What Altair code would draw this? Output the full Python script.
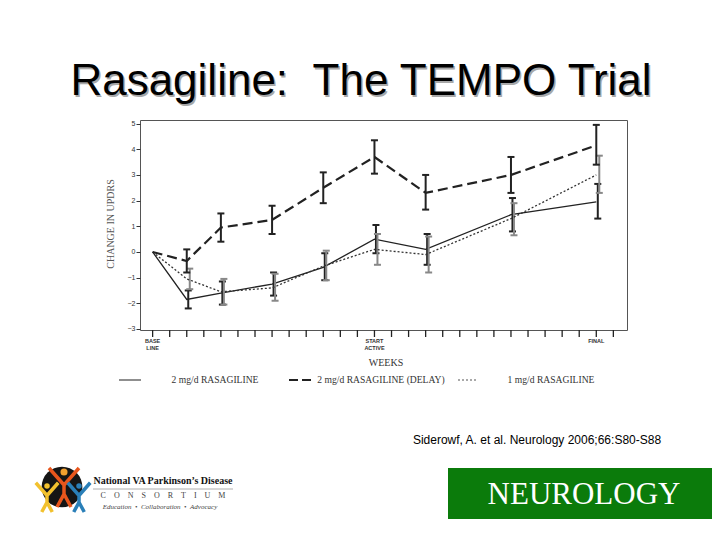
import altair as alt
import pandas as pd

# ---------------- data ----------------
weeks = [0, 4, 8, 14, 20, 26, 32, 42, 52]

r2_mean = [0, -1.85, -1.6, -1.25, -0.6, 0.5, 0.1, 1.45, 1.95]
r2_lo = [None, -2.2, -2.05, -1.7, -1.1, -0.05, -0.5, 0.8, 1.3]
r2_hi = [None, -1.5, -1.15, -0.8, -0.05, 1.05, 0.7, 2.1, 2.65]

delay_mean = [0, -0.35, 0.95, 1.25, 2.5, 3.7, 2.3, 3.0, 4.15]
delay_lo = [None, -0.8, 0.4, 0.7, 1.9, 3.05, 1.65, 2.3, 3.4]
delay_hi = [None, 0.1, 1.5, 1.8, 3.1, 4.35, 3.0, 3.7, 4.95]

r1_mean = [0, -1.05, -1.55, -1.4, -0.55, 0.1, -0.1, 1.3, 3.0]
r1_lo = [None, -1.45, -2.05, -1.9, -1.1, -0.5, -0.8, 0.65, 2.3]
r1_hi = [None, -0.65, -1.05, -0.85, 0.05, 0.7, 0.6, 1.9, 3.75]

series_names = ["2 mg/d RASAGILINE", "2 mg/d RASAGILINE (DELAY)", "1 mg/d RASAGILINE"]
x_tick_weeks = list(range(0, 56, 2))
y_ticks = list(range(-3, 6))
x_label_weeks = [0, 26, 52]
x_label_text = ["BASE\nLINE", "START\nACTIVE", "FINAL"]

NB = "\u00a0"
title_text = "Rasagiline:" + NB + NB + "The TEMPO Trial"
y_title = "CHANGE IN UPDRS"
x_title = "WEEKS"
citation = "Siderowf, A. et al. Neurology 2006;66:S80-S88"
consortium = (NB * 4).join(list("CONSORTIUM"))

# ---------------- layout ----------------
W, H = 487, 210
PAD_L, PAD_T = 132, 112
TOTAL_W, TOTAL_H = 704, 524
OX, OY = 8 + PAD_L, 8 + PAD_T  # page coords of plot origin

xs = alt.Scale(domain=[-1.48, 55.6], nice=False, zero=False)
ys = alt.Scale(domain=[-3.04, 5.14], nice=False, zero=False)

y_axis = alt.Axis(values=y_ticks, tickSize=4, tickColor="#333", labelFontSize=7,
                  labelColor="#333", labelPadding=1, labelFont="Liberation Sans",
                  domain=False, grid=False, title=None)


def one():
    return pd.DataFrame({"t": [""]})


def txt(s, x, y, size, font="Liberation Sans", color="#000", weight="normal",
        style="normal", angle=0, align="center", baseline="alphabetic"):
    return alt.Chart(pd.DataFrame({"t": [s]})).mark_text(
        fontSize=size, font=font, color=color, fontWeight=weight, fontStyle=style,
        angle=angle, align=align, baseline=baseline
    ).encode(x=alt.value(x - OX), y=alt.value(y - OY), text="t:N")


def hrule(x1, x2, y, dash=None, width=1.0, color="#333"):
    kw = dict(strokeWidth=width, color=color)
    if dash:
        kw["strokeDash"] = dash
    return alt.Chart(one()).mark_rule(**kw).encode(
        x=alt.value(x1 - OX), x2=alt.value(x2 - OX), y=alt.value(y - OY))


def X():
    return alt.X("week:Q", scale=xs, axis=None)


def Y(f):
    return alt.Y(f + ":Q", scale=ys, axis=y_axis)


def series(mean, lo, hi, dash, lw, color, ebcolor, ebw, off):
    df = pd.DataFrame({"week": weeks, "mean": mean, "lo": lo, "hi": hi})
    base = alt.Chart(df)
    kw = dict(strokeWidth=lw, color=color)
    if dash:
        kw["strokeDash"] = dash
    line = base.mark_line(**kw).encode(x=X(), y=Y("mean"))
    eb_base = base.transform_filter("isValid(datum.lo)")
    rule = eb_base.mark_rule(color=ebcolor, strokeWidth=ebw, xOffset=off).encode(
        x=X(), y=Y("lo"), y2="hi:Q")
    caps = []
    for f in ["lo", "hi"]:
        caps.append(eb_base.mark_point(shape="M-1,0L1,0", size=49, filled=False,
                                       strokeWidth=ebw, color=ebcolor, opacity=1,
                                       xOffset=off).encode(x=X(), y=Y(f)))
    return [rule] + caps + [line]


layers = []
layers += series(r2_mean, r2_lo, r2_hi, None, 1.3, "#222", "#222", 2, 1.5)
layers += series(r1_mean, r1_lo, r1_hi, [2, 2], 1.3, "#333", "#888", 2, 3)
layers += series(delay_mean, delay_lo, delay_hi, [10, 5], 2.2, "#222", "#222", 2, 0)

# x-axis ticks (every 2 weeks), drawn through the x scale as short vertical strokes
xt = alt.Chart(pd.DataFrame({"week": x_tick_weeks})).mark_point(
    shape="M0,-1L0,1", size=49, filled=False, strokeWidth=1.3, color="#222", opacity=1
).encode(x=X(), y=alt.value(H + 3.5))
layers.append(xt)

# x category labels
xl = alt.Chart(pd.DataFrame({"week": x_label_weeks, "lab": x_label_text})).mark_text(
    fontSize=5.5, font="Liberation Sans", fontWeight="bold", color="#333",
    lineBreak="\n", baseline="top", lineHeight=7
).encode(x=X(), y=alt.value(339 - OY), text="lab:N")
layers.append(xl)

# titles / texts
layers.append(txt(title_text, 362.5, 96.5, 44, color="#a8a8a8"))
layers.append(txt(title_text, 361, 95, 44, color="#000"))
layers.append(txt(y_title, 111, 224, 10, font="Liberation Serif", color="#555",
                  angle=270, baseline="middle"))
layers.append(txt(x_title, 386, 363, 10, font="Liberation Serif", color="#333",
                  baseline="middle"))

# legend
LY = 380
layers.append(hrule(119, 141, LY, None, 1.2, "#444"))
layers.append(txt(series_names[0], 215, LY, 9.6, font="Liberation Serif", color="#333",
                  baseline="middle"))
layers.append(hrule(289, 311, LY, [9, 4], 2.2, "#222"))
layers.append(txt(series_names[1], 381, LY, 9.6, font="Liberation Serif", color="#333",
                  baseline="middle"))
layers.append(hrule(458, 478, LY, [2, 2], 1.2, "#555"))
layers.append(txt(series_names[2], 551, LY, 9.6, font="Liberation Serif", color="#333",
                  baseline="middle"))

# citation
layers.append(txt(citation, 537, 440, 12, baseline="middle"))

# left logo
layers.append(alt.Chart(one()).mark_point(shape="circle", filled=True, size=1660,
                                          color="#151515", opacity=1).encode(
    x=alt.value(62 - OX), y=alt.value(487 - OY)))
fig = "M0,-0.1L-0.75,-0.95M0,-0.1L0.75,-0.95M0,-0.1L0,0.35L-0.35,1M0,0.35L0.35,1"
for (fx, fy, fs, col) in [(64, 487, 1600, "#e8561c"), (47, 497, 900, "#f2c12e"),
                          (79, 497, 900, "#2a7fb8")]:
    layers.append(alt.Chart(one()).mark_point(shape=fig, filled=False, size=fs,
                                              strokeWidth=3.5, color=col, opacity=1).encode(
        x=alt.value(fx - OX), y=alt.value(fy - OY)))
for (hx, hy, hs, col) in [(64, 472, 50, "#f2a02e"), (47, 486, 30, "#f2c12e"),
                          (79, 486, 30, "#2a7fb8")]:
    layers.append(alt.Chart(one()).mark_point(shape="circle", filled=True, size=hs,
                                              color=col, opacity=1).encode(
        x=alt.value(hx - OX), y=alt.value(hy - OY)))

layers.append(txt("National VA Parkinson\u2019s Disease", 163, 484, 10,
                  font="Liberation Serif", weight="bold", color="#111"))
layers.append(hrule(93, 233, 489, None, 0.8, "#999"))
layers.append(txt(consortium, 163, 498, 8, font="Liberation Serif", color="#444"))
layers.append(txt("Education" + NB + NB + "\u2022" + NB + NB + "Collaboration" + NB + NB
                  + "\u2022" + NB + NB + "Advocacy", 160, 509, 7,
                  font="Liberation Serif", style="italic", color="#444"))

# NEUROLOGY box
layers.append(alt.Chart(one()).mark_rect(color="#0b7b0b").encode(
    x=alt.value(448 - OX), x2=alt.value(712 - OX),
    y=alt.value(468 - OY), y2=alt.value(519 - OY)))
layers.append(txt("NEUROLOGY", 584, 504, 31, font="Liberation Serif", color="#ffffff"))

chart = alt.layer(*layers).properties(
    width=W, height=H,
    autosize=alt.AutoSizeParams(type="none"),
    padding={"left": PAD_L, "top": PAD_T,
             "right": TOTAL_W - PAD_L - W, "bottom": TOTAL_H - PAD_T - H},
    background="#ffffff",
).configure_view(stroke="#555", strokeWidth=1)

chart.save("out.html", embed_options={"renderer": "svg", "actions": False})
